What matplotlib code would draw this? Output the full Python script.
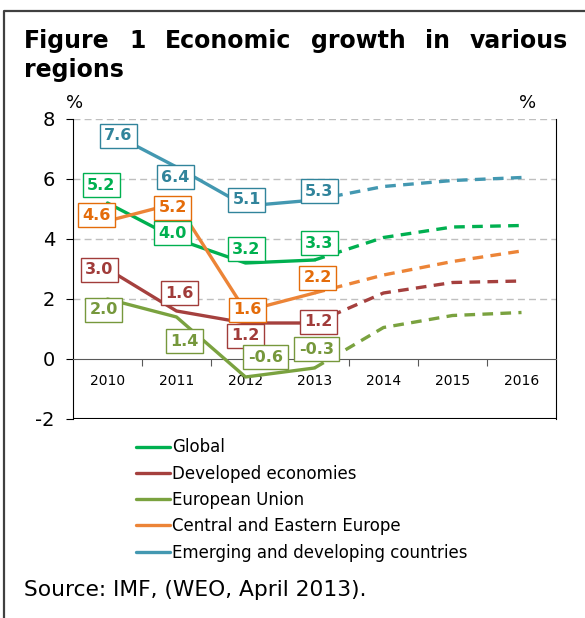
import numpy as np
import matplotlib.pyplot as plt
from matplotlib.lines import Line2D

plt.rcParams['axes.unicode_minus'] = False

years = ['2010', '2011', '2012', '2013', '2014', '2015', '2016']
series_names = ['Global', 'Developed economies', 'European Union',
                'Central and Eastern Europe', 'Emerging and developing countries']
global_growth = [5.2, 4.0, 3.2, 3.3, 4.05, 4.4, 4.45]
developed = [3.0, 1.6, 1.2, 1.2, 2.2, 2.55, 2.6]
eu = [2.0, 1.4, -0.6, -0.3, 1.05, 1.45, 1.55]
cee = [4.6, 5.2, 1.6, 2.2, 2.8, 3.25, 3.6]
emerging = [7.6, 6.4, 5.1, 5.3, 5.75, 5.95, 6.05]

line_colors = ['#00b050', '#a5403e', '#7aa23f', '#ec8437', '#4398b1']
text_colors = ['#00b050', '#a13c3a', '#76983c', '#e46c0a', '#31849b']

# label offsets in pixels for the first four (labelled) points
offsets = [
    [(-6, 18), (-4, 6), (1, 14), (5, 17)],
    [(-8, -1), (3, 18), (0, -13), (4, 1)],
    [(-4, -11), (8, -24), (20, 20), (2, 19)],
    [(-11, 6), (-4, -5), (2, 1), (3, 15)],
    [(11, -5), (-1, -10), (1, 6), (5, 9)],
]

W, H = 585, 618
fig = plt.figure(figsize=(W / 100, H / 100), dpi=100)
ax = fig.add_axes([73 / W, 1 - 419 / H, 483 / W, 300 / H])

x = np.arange(len(years))
all_series = [global_growth, developed, eu, cee, emerging]
for name, vals, lc in zip(series_names, all_series, line_colors):
    vals = np.array(vals)
    ax.plot(x[:4], vals[:4], color=lc, lw=2.4, solid_capstyle='round', label=name, zorder=3)
    ax.plot(x[3:], vals[3:], color=lc, lw=2.4, linestyle=(0, (3.2, 2.2)), zorder=3)

for vals, tc, offs in zip(all_series, text_colors, offsets):
    for i in range(4):
        ax.annotate(f'{vals[i]:.1f}', xy=(x[i], vals[i]), xytext=offs[i],
                    textcoords='offset pixels', ha='center', va='center',
                    fontsize=11.5, fontweight='bold', color=tc, zorder=5,
                    bbox=dict(boxstyle='square,pad=0.3', fc='white', ec=tc, lw=1))

ax.set_xlim(-0.5, 6.5)
ax.set_ylim(-2, 8)
ax.set_yticks([-2, 0, 2, 4, 6, 8])
ax.tick_params(axis='y', labelsize=14, length=5, pad=8, direction='out')

ax.spines['bottom'].set_position(('data', 0))
ax.spines['bottom'].set_color('#595959')
ax.spines['top'].set_visible(False)
ax.set_xticks(np.arange(0.5, 6, 1))
ax.set_xticklabels([])
ax.set_xticks(x, minor=True)
ax.set_xticklabels(years, minor=True)
ax.tick_params(axis='x', which='major', length=5, direction='out', color='#595959')
ax.tick_params(axis='x', which='minor', length=0, pad=11, labelsize=10)

for yv in [2, 4, 6, 8]:
    ax.axhline(yv, color='#bfbfbf', lw=1, linestyle=(0, (5, 3)), zorder=1)
ax.axhline(-2, color='black', lw=1.5, zorder=2)

fig.text(75 / W, 1 - 103 / H, '%', fontsize=13, ha='center', va='center')
fig.text(528 / W, 1 - 103 / H, '%', fontsize=13, ha='center', va='center')

fig.legend(handles=ax.get_lines()[::2], labels=series_names, loc='upper left',
           bbox_to_anchor=(128 / W, 1 - 430 / H), frameon=False, fontsize=12,
           handlelength=2.0, handletextpad=0.15, labelspacing=0.5, borderpad=0)

fig.text(24 / W, 1 - 590 / H, 'Source: IMF, (WEO, April 2013).', fontsize=15.7,
         ha='left', va='center')

# justified title, first line spread from edge to edge
renderer = fig.canvas.get_renderer()
words = ['Figure', '1', 'Economic', 'growth', 'in', 'various']
texts = [fig.text(0, 1 - 48 / H, w, fontsize=17, fontweight='bold', va='baseline')
         for w in words]
widths = [t.get_window_extent(renderer).width for t in texts]
left, right = 24, 568
gap = (right - left - sum(widths)) / (len(words) - 1)
pos = left
for t, wd in zip(texts, widths):
    t.set_x(pos / W)
    pos += wd + gap
fig.text(left / W, 1 - 77 / H, 'regions', fontsize=17, fontweight='bold', va='baseline')

frame = Line2D([4 / W, 4 / W, 1], [0, 1 - 11 / H, 1 - 11 / H], color='#404040', lw=1.6,
               transform=fig.transFigure)
fig.add_artist(frame)

fig.savefig('out.png', dpi=100)
